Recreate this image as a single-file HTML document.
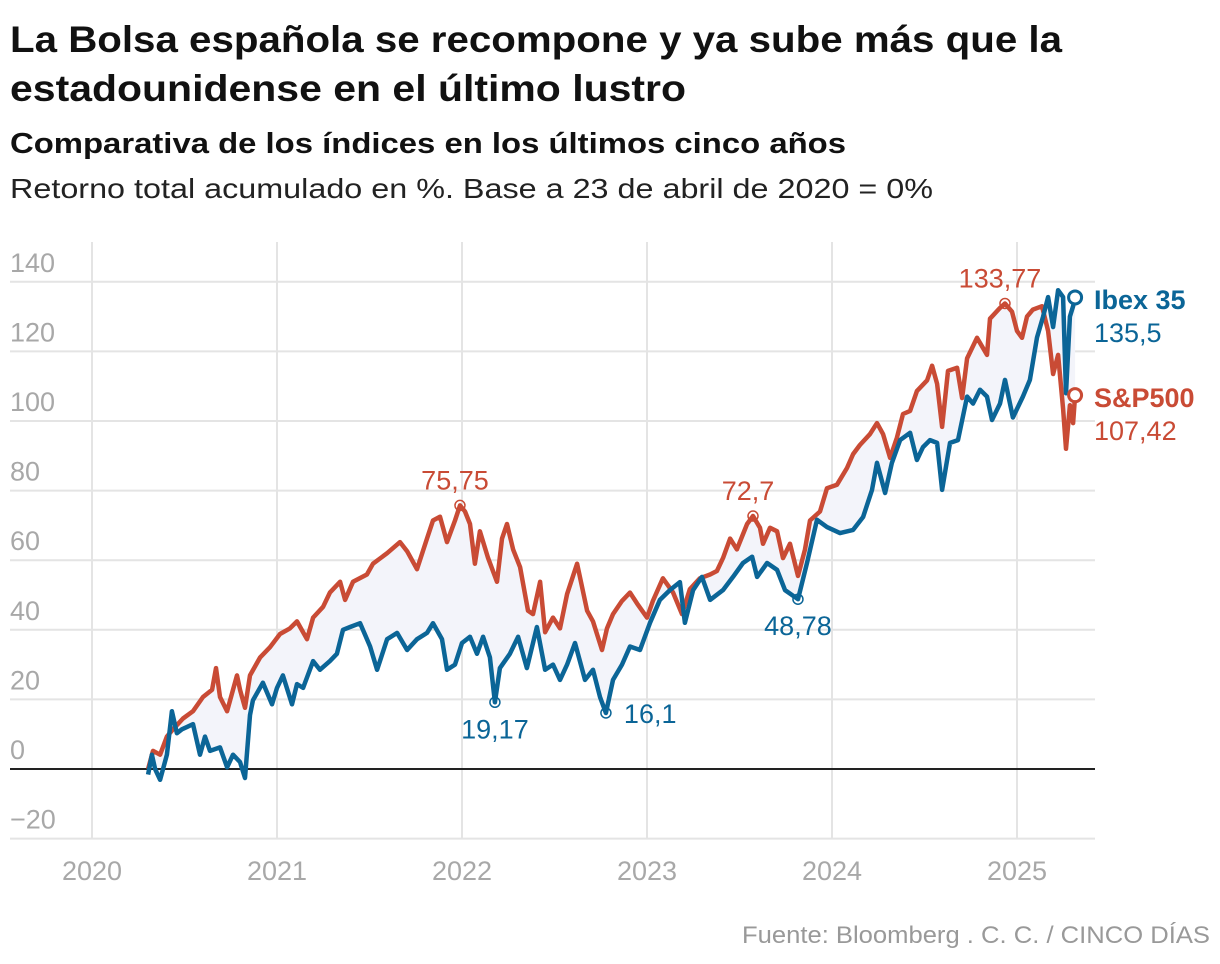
<!DOCTYPE html>
<html><head><meta charset="utf-8">
<style>
html,body{margin:0;padding:0;background:#fff;}
svg{display:block;font-family:"Liberation Sans",Arial,sans-serif;}
</style></head>
<body>
<svg id="chart" width="1220" height="964" viewBox="0 0 1220 964">
<text x="10" y="52" font-size="37" font-weight="bold" fill="#111" textLength="1052" lengthAdjust="spacingAndGlyphs">La Bolsa española se recompone y ya sube más que la</text>
<text x="10" y="101" font-size="37" font-weight="bold" fill="#111" textLength="676" lengthAdjust="spacingAndGlyphs">estadounidense en el último lustro</text>
<text x="10" y="153" font-size="29" font-weight="bold" fill="#111" textLength="836" lengthAdjust="spacingAndGlyphs">Comparativa de los índices en los últimos cinco años</text>
<text x="10" y="198" font-size="28" fill="#222" textLength="923" lengthAdjust="spacingAndGlyphs">Retorno total acumulado en %. Base a 23 de abril de 2020 = 0%</text>
<g id="grid"></g>
<g id="plot"></g>
<text x="1210" y="943" font-size="24" fill="#999" text-anchor="end" textLength="468" lengthAdjust="spacingAndGlyphs">Fuente: Bloomberg . C. C. / CINCO DÍAS</text>
</svg>
<script>
const yTicks = [-20, 0, 20, 40, 60, 80, 100, 120, 140];
const yTickLabels = ["\u221220", "0", "20", "40", "60", "80", "100", "120", "140"];
const xTicks = [2020, 2021, 2022, 2023, 2024, 2025];
const xTickLabels = ["2020", "2021", "2022", "2023", "2024", "2025"];

const sp500Years = [
.303,.330,.368,.405,.438,.492,.546,.600,.649,.670,
.692,.730,.784,.800,.827,.854,.908,.962,1.016,1.070,
1.108,1.162,1.195,1.249,1.286,1.341,1.368,1.411,1.486,1.519,
1.595,1.665,1.703,1.757,1.811,1.843,1.881,1.919,1.962,1.989,
2.016,2.043,2.070,2.097,2.141,2.189,2.216,2.243,2.276,2.314,
2.357,2.384,2.422,2.449,2.492,2.530,2.568,2.622,2.676,2.708,
2.757,2.784,2.816,2.865,2.908,2.946,3.000,3.032,3.086,3.141,
3.189,3.232,3.286,3.341,3.378,3.411,3.449,3.486,3.541,3.573,
3.611,3.627,3.665,3.703,3.735,3.773,3.816,3.854,3.881,3.935,
3.973,4.027,4.081,4.114,4.151,4.205,4.243,4.276,4.314,4.351,
4.384,4.422,4.459,4.514,4.541,4.568,4.595,4.627,4.676,4.703,
4.730,4.784,4.838,4.854,4.908,4.935,4.973,5.000,5.027,5.054,
5.086,5.135,5.168,5.195,5.222,5.249,5.265,5.286,5.303,5.314];
const sp500Values = [
0,5.2,4.1,9.3,11.4,14.5,16.6,20.7,22.8,29,
20.7,16.6,26.9,22.8,17.6,26.9,32,35,38.8,40.4,
42.4,37.3,43.5,46.6,50.7,53.8,48.6,53.8,55.9,59,
62,65.2,62.6,57.4,66.2,71.4,72.5,65.2,71.4,75.75,
74,70.4,59,68.3,60.6,53.8,66.2,70.4,63.1,58,
45.5,44.5,53.8,39.3,43.5,40.4,50.3,59,45.5,42.4,
34.2,40.4,44.5,48.3,50.7,47.6,43.5,48.3,54.8,50.7,
44.5,51.7,54.8,55.9,56.9,60.6,66.2,63.1,70.4,72.7,
69.3,64.7,69.3,68.3,60.6,64.7,55.5,63.1,71.4,74,
80.7,81.7,86.5,90.5,93.1,96.2,99.4,96.2,89.4,95.2,
102,102.9,108.6,111.7,115.9,110.7,98.3,114.4,115.3,106.6,
118,123.9,119,129.4,132.5,133.77,131.4,125.9,123.9,130,
132,133,125.9,113.5,119,103.5,92,104.5,99.4,107.42];

const ibexYears = [
.303,.324,.341,.368,.405,.432,.459,.486,.514,.546,
.584,.611,.638,.692,.730,.762,.800,.827,.854,.870,
.924,.973,1.000,1.032,1.081,1.108,1.141,1.195,1.232,1.286,
1.324,1.357,1.395,1.449,1.503,1.541,1.595,1.649,1.703,1.757,
1.811,1.843,1.892,1.919,1.962,2.000,2.043,2.081,2.114,2.151,
2.178,2.205,2.259,2.303,2.351,2.405,2.449,2.492,2.530,2.568,
2.611,2.665,2.708,2.746,2.778,2.816,2.865,2.908,2.962,3.016,
3.070,3.124,3.178,3.205,3.249,3.297,3.341,3.411,3.465,3.519,
3.568,3.595,3.649,3.703,3.746,3.816,3.865,3.919,3.973,4.043,
4.114,4.168,4.216,4.243,4.287,4.324,4.368,4.422,4.459,4.492,
4.530,4.568,4.595,4.638,4.681,4.730,4.762,4.800,4.838,4.865,
4.908,4.935,4.978,5.032,5.070,5.108,5.141,5.168,5.195,5.222,
5.249,5.265,5.286,5.303,5.314];
const ibexValues = [
-1.6,4.1,0,-3.1,4.1,16.6,10.3,11.4,12.1,12.9,
4.1,9.3,5.2,6.2,0.5,4.1,2,-2.6,15.5,19.7,
24.8,18.6,23.3,26.9,18.6,24.4,23.3,31,28.5,31,
33.1,40,40.8,41.9,35.2,28.5,37.3,39.1,34.2,37.3,
39.1,41.9,37.3,28.5,30,36.2,38,33.1,38,32.1,
19.17,29,33.1,38,29,40.8,28.5,30,25.6,30,
36.2,25.6,28.5,20.7,16.1,25.6,30,35.2,34.2,42,
48.6,51.4,53.7,42,51.4,55.2,48.6,51.4,55.2,59.2,
61,55.2,59.2,57.2,51.4,48.78,59.2,71.6,69.5,67.8,
68.7,72.4,80.2,88,79.3,88,94.5,96.6,88.8,92.5,
94.5,93.7,80.2,93.7,94.5,107,105,109,107,100.3,
105,111.8,101,107,111.8,124,130,135.6,127,137.6,
135.6,108,130,133,135.5];

const spAnnotIdx = [39, 79, 115];
const spAnnotLabels = ["75,75", "72,7", "133,77"];
const ibexAnnotIdx = [50, 64, 85];
const ibexAnnotLabels = ["19,17", "16,1", "48,78"];

const RED = "#c94b35", BLUE = "#0b6597";
const NS = "http://www.w3.org/2000/svg";
function X(yr) { return 92 + (yr - 2020) * 185; }
function Y(v) { return 769 - v * 3.48; }
function mk(tag, attrs, parent) {
  const e = document.createElementNS(NS, tag);
  for (const k in attrs) e.setAttribute(k, attrs[k]);
  parent.appendChild(e);
  return e;
}
const grid = document.getElementById('grid');
const plot = document.getElementById('plot');

yTicks.forEach((t, i) => {
  if (t !== 0) {
    const l = mk('line', {x1: 10, x2: 1095, y1: Y(t), y2: Y(t), stroke: '#e4e4e4', 'stroke-width': 2}, grid);
    
    
  }
  const tx = mk('text', {x: 10, y: Y(t) - 10, 'font-size': 27, fill: '#a8a8a8'}, grid);
  tx.textContent = yTickLabels[i];
  
  
});
xTicks.forEach((t, i) => {
  const l = mk('line', {x1: X(t), x2: X(t), y1: 242, y2: 838, stroke: '#e4e4e4', 'stroke-width': 2}, grid);
  
  
  const tx = mk('text', {x: X(t), y: 880, 'font-size': 27, fill: '#a8a8a8', 'text-anchor': 'middle'}, grid);
  tx.textContent = xTickLabels[i];
  
  
});

function pts(xs, vs) { return xs.map((x, i) => X(2020 + x).toFixed(1) + ',' + Y(vs[i]).toFixed(1)); }
const redPts = pts(sp500Years, sp500Values);
const bluePts = pts(ibexYears, ibexValues);
const fill = mk('polygon', {points: redPts.concat(bluePts.slice().reverse()).join(' '), fill: '#f3f4fa'}, plot);



const zero = mk('line', {x1: 10, x2: 1095, y1: Y(0), y2: Y(0), stroke: '#222', 'stroke-width': 2}, plot);



const redLine = mk('polyline', {points: redPts.join(' '), fill: 'none', stroke: RED, 'stroke-width': 4.5, 'stroke-linejoin': 'round'}, plot);


const blueLine = mk('polyline', {points: bluePts.join(' '), fill: 'none', stroke: BLUE, 'stroke-width': 4.5, 'stroke-linejoin': 'round'}, plot);



spAnnotIdx.forEach((k, i) => {
  const cx = X(2020 + sp500Years[k]), cy = Y(sp500Values[k]);
  const c = mk('circle', {cx: cx, cy: cy, r: 5, fill: 'none', stroke: RED, 'stroke-width': 1.5}, plot);
  
  
  const t = mk('text', {x: cx - 5, y: cy - 16, 'font-size': 27, fill: RED, 'text-anchor': 'middle'}, plot);
  t.textContent = spAnnotLabels[i];
  
  
});
ibexAnnotIdx.forEach((k, i) => {
  const cx = X(2020 + ibexYears[k]), cy = Y(ibexValues[k]);
  const c = mk('circle', {cx: cx, cy: cy, r: 5, fill: 'none', stroke: BLUE, 'stroke-width': 1.5}, plot);
  
  
  const side = (i === 1);
  const t = mk('text', {x: side ? cx + 18 : cx, y: side ? cy + 10 : cy + 36, 'font-size': 27, fill: BLUE, 'text-anchor': side ? 'start' : 'middle'}, plot);
  t.textContent = ibexAnnotLabels[i];
  
  
});

const bl = ibexYears.length - 1, rl = sp500Years.length - 1;
const be = mk('circle', {cx: X(2020 + ibexYears[bl]), cy: Y(ibexValues[bl]), r: 6.5, fill: '#fff', stroke: BLUE, 'stroke-width': 3}, plot);


const re = mk('circle', {cx: X(2020 + sp500Years[rl]), cy: Y(sp500Values[rl]), r: 6.5, fill: '#fff', stroke: RED, 'stroke-width': 3}, plot);



const l1 = mk('text', {x: 1094, y: 309, 'font-size': 27, 'font-weight': 'bold', fill: BLUE}, plot);
l1.textContent = 'Ibex 35';


const v1 = mk('text', {x: 1094, y: 342, 'font-size': 27, fill: BLUE}, plot);
v1.textContent = String(ibexValues[bl]).replace('.', ',');


const l2 = mk('text', {x: 1094, y: 407, 'font-size': 27, 'font-weight': 'bold', fill: RED}, plot);
l2.textContent = 'S&P500';


const v2 = mk('text', {x: 1094, y: 440, 'font-size': 27, fill: RED}, plot);
v2.textContent = String(sp500Values[rl]).replace('.', ',');


</script>
</body></html>
